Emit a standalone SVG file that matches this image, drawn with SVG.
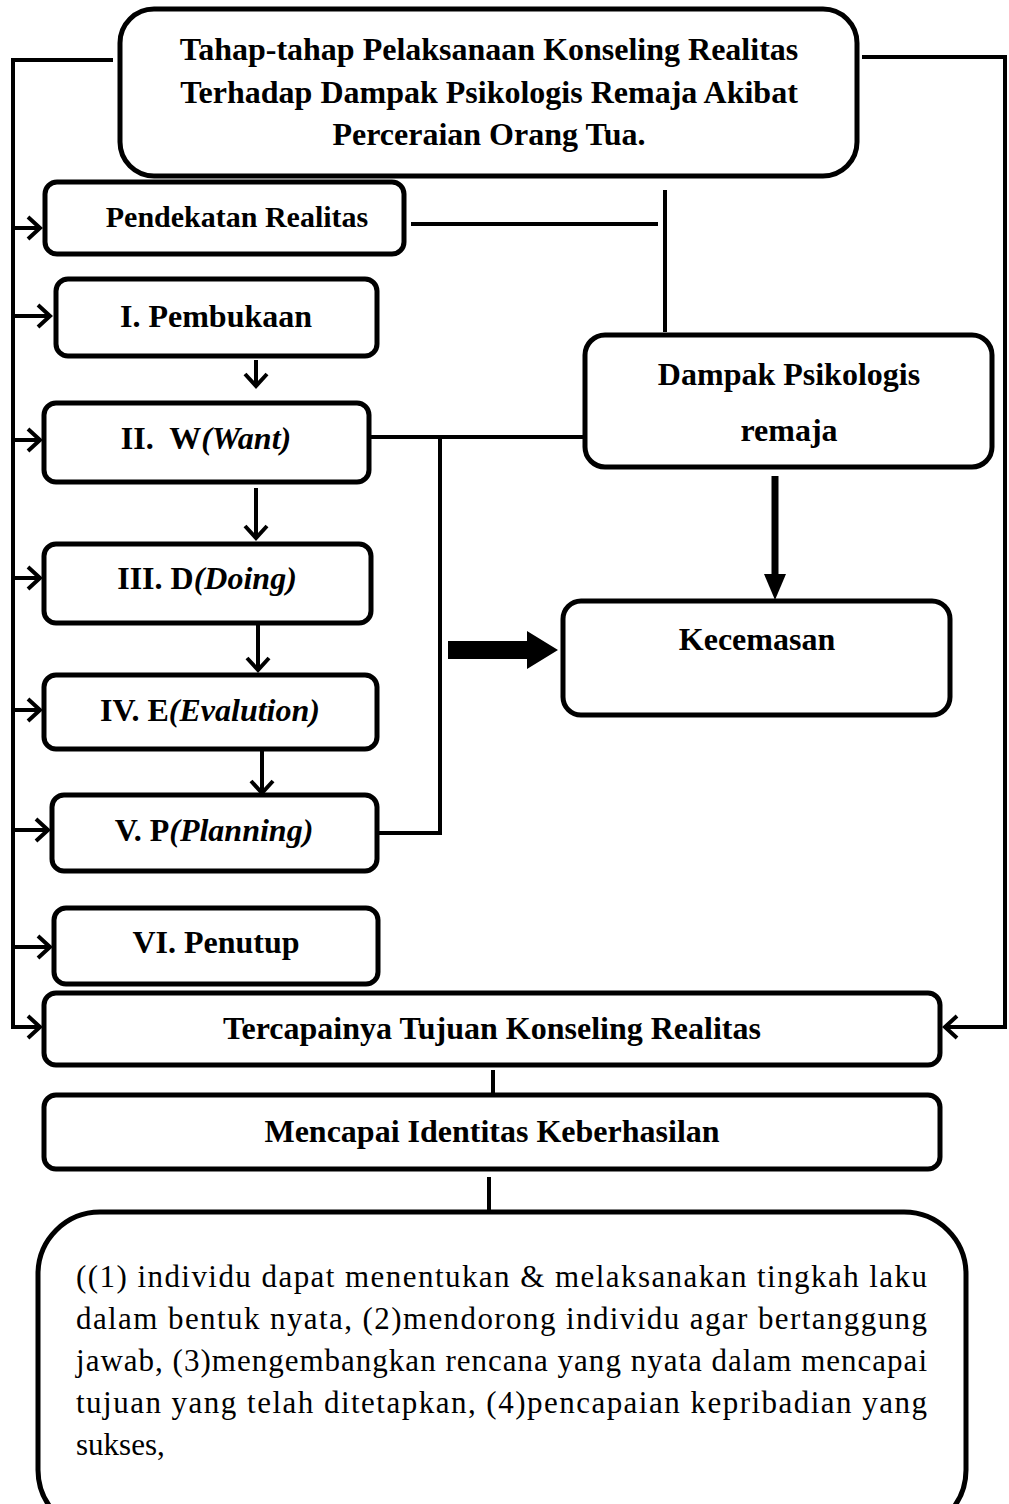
<svg xmlns="http://www.w3.org/2000/svg" width="1009" height="1504" viewBox="0 0 1009 1504">
<defs>
<marker id="open" markerUnits="userSpaceOnUse" markerWidth="20" markerHeight="30" refX="14" refY="13" orient="auto">
<path d="M2,2 L14,13 L2,24" fill="none" stroke="#000" stroke-width="4"/>
</marker>
</defs>
<style>
.box{fill:#fff;stroke:#000;stroke-width:5}
.ln{fill:none;stroke:#000;stroke-width:4}
.t{font-family:"Liberation Serif","Times New Roman",serif;font-weight:bold;font-size:32px;fill:#000;text-anchor:middle}
.i{font-style:italic}
.p{font-family:"Liberation Serif","Times New Roman",serif;font-size:31px;fill:#000}
</style>
<rect width="1009" height="1504" fill="#fff"/>

<g id="connectors">
<polyline class="ln" points="113,60 13,60 13,1027 40,1027" marker-end="url(#open)"/>
<line class="ln" x1="13" y1="228" x2="40" y2="228" marker-end="url(#open)"/>
<line class="ln" x1="13" y1="316" x2="50" y2="316" marker-end="url(#open)"/>
<line class="ln" x1="13" y1="440" x2="40" y2="440" marker-end="url(#open)"/>
<line class="ln" x1="13" y1="578" x2="40" y2="578" marker-end="url(#open)"/>
<line class="ln" x1="13" y1="710" x2="40" y2="710" marker-end="url(#open)"/>
<line class="ln" x1="13" y1="830" x2="48" y2="830" marker-end="url(#open)"/>
<line class="ln" x1="13" y1="947" x2="50" y2="947" marker-end="url(#open)"/>
<polyline class="ln" points="862,57 1005,57 1005,1027 945,1027" marker-end="url(#open)"/>
<line class="ln" x1="256" y1="360" x2="256" y2="386" marker-end="url(#open)"/>
<line class="ln" x1="256" y1="488" x2="256" y2="538" marker-end="url(#open)"/>
<line class="ln" x1="258" y1="625" x2="258" y2="670" marker-end="url(#open)"/>
<line class="ln" x1="262" y1="751" x2="262" y2="793" marker-end="url(#open)"/>
<line class="ln" x1="411" y1="224" x2="658" y2="224"/>
<line class="ln" x1="665" y1="190" x2="665" y2="332"/>
<line class="ln" x1="370" y1="437" x2="583" y2="437"/>
<polyline class="ln" points="377,833 440,833 440,437"/>
<path d="M448,641 L527,641 L527,631 L558,650 L527,669 L527,659 L448,659 Z" fill="#000"/>
<line x1="775" y1="476" x2="775" y2="580" stroke="#000" stroke-width="7"/>
<path d="M764,574 L786,574 L775,600 Z" fill="#000"/>
<line class="ln" x1="493" y1="1070" x2="493" y2="1093"/>
<line class="ln" x1="489" y1="1177" x2="489" y2="1214"/>
</g>

<g id="title">
<rect class="box" x="120" y="9" width="737" height="167" rx="34"/>
<text class="t" x="489" y="60">Tahap-tahap Pelaksanaan Konseling Realitas</text>
<text class="t" x="489" y="103">Terhadap Dampak Psikologis Remaja Akibat</text>
<text class="t" x="489" y="145">Perceraian Orang Tua.</text>
</g>

<g id="pendekatan">
<rect class="box" x="45" y="182" width="359" height="72" rx="12"/>
<text class="t" x="237" y="227" style="font-size:30px">Pendekatan Realitas</text>
</g>

<g id="pembukaan">
<rect class="box" x="56" y="279" width="321" height="77" rx="12"/>
<text class="t" x="216" y="327">I. Pembukaan</text>
</g>

<g id="want">
<rect class="box" x="44" y="403" width="325" height="79" rx="12"/>
<text class="t" x="206" y="449" xml:space="preserve">II.  W<tspan class="i">(Want)</tspan></text>
</g>

<g id="doing">
<rect class="box" x="44" y="544" width="327" height="79" rx="12"/>
<text class="t" x="207" y="589">III. D<tspan class="i">(Doing)</tspan></text>
</g>

<g id="evaluation">
<rect class="box" x="44" y="675" width="333" height="74" rx="12"/>
<text class="t" x="210" y="721">IV. E<tspan class="i">(Evalution)</tspan></text>
</g>

<g id="planning">
<rect class="box" x="52" y="795" width="325" height="76" rx="12"/>
<text class="t" x="214" y="841">V. P<tspan class="i">(Planning)</tspan></text>
</g>

<g id="penutup">
<rect class="box" x="54" y="908" width="324" height="76" rx="12"/>
<text class="t" x="216" y="953">VI. Penutup</text>
</g>

<g id="dampak">
<rect class="box" x="585" y="335" width="407" height="132" rx="20"/>
<text class="t" x="789" y="385">Dampak Psikologis</text>
<text class="t" x="789" y="441">remaja</text>
</g>

<g id="kecemasan">
<rect class="box" x="563" y="601" width="387" height="114" rx="18"/>
<text class="t" x="757" y="650">Kecemasan</text>
</g>

<g id="tercapainya">
<rect class="box" x="44" y="993" width="896" height="72" rx="12"/>
<text class="t" x="492" y="1039">Tercapainya Tujuan Konseling Realitas</text>
</g>

<g id="mencapai">
<rect class="box" x="44" y="1095" width="896" height="74" rx="12"/>
<text class="t" x="492" y="1142">Mencapai Identitas Keberhasilan</text>
</g>

<g id="hasil">
<rect class="box" x="38" y="1212" width="928" height="320" rx="62"/>
<text class="p" x="76" y="1287" textLength="851" lengthAdjust="spacing">((1) individu dapat menentukan &amp; melaksanakan tingkah laku</text>
<text class="p" x="76" y="1329" textLength="851" lengthAdjust="spacing">dalam bentuk nyata, (2)mendorong individu agar bertanggung</text>
<text class="p" x="76" y="1371" textLength="851" lengthAdjust="spacing">jawab, (3)mengembangkan rencana yang nyata dalam mencapai</text>
<text class="p" x="76" y="1413" textLength="851" lengthAdjust="spacing">tujuan yang telah ditetapkan, (4)pencapaian kepribadian yang</text>
<text class="p" x="76" y="1455">sukses,</text>
</g>
</svg>
